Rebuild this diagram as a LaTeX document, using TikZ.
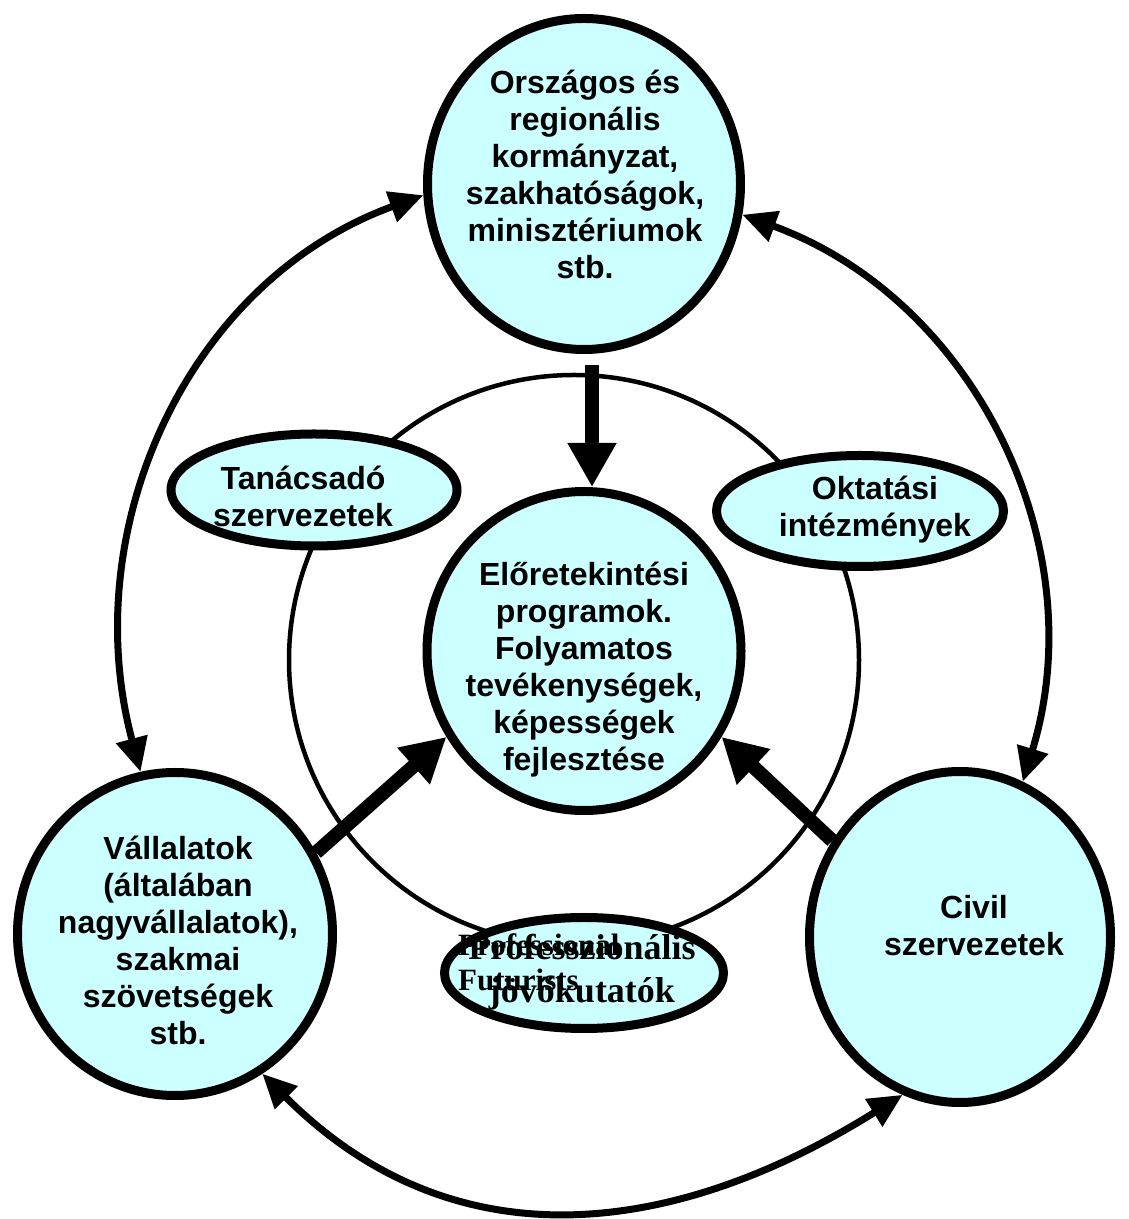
\documentclass[tikz,border=0pt]{standalone}
\usepackage{fontspec}
\setmainfont{Liberation Sans}
\newfontfamily\timesfont{Liberation Serif}
\usetikzlibrary{arrows.meta}
\usetikzlibrary{shapes.geometric}
\definecolor{cyan1}{RGB}{204, 255, 255}

\begin{document}
\begin{tikzpicture}[x=1pt, y=1pt,
  actor/.style={ellipse, draw, fill=cyan1, line width=9pt, inner sep=0pt},
  words/.style={align=center, font=\fontsize{32}{37}\selectfont\bfseries},
  push/.style={line width=14pt, -{Triangle[length=44pt,width=46pt]}},
  link/.style={line width=7pt, {Triangle[length=34pt,width=31pt]}-{Triangle[length=34pt,width=31pt]}}]
  \useasboundingbox (0,0) rectangle (1128,1219);
  \draw[line width=4.5pt] (574,559) circle [radius=285];

  \node[actor, minimum width=313pt, minimum height=331pt] (orsz) at (584,1035) {};
  \node[actor, minimum width=314pt, minimum height=319pt] (cent) at (584,568) {};
  \node[actor, minimum width=286pt, minimum height=112pt] (tan) at (314,729) {};
  \node[actor, minimum width=287pt, minimum height=111pt] (okt) at (860,708) {};
  \node[actor, minimum width=315pt, minimum height=323pt] (vall) at (175,285) {};
  \node[actor, minimum width=301pt, minimum height=331pt] (civil) at (960,282) {};
  \node[actor, minimum width=279pt, minimum height=111pt] (prof) at (584,246) {};

  \node[words] (orszt) at (585,1045) {Országos és\\regionális\\kormányzat,\\szakhatóságok,\\minisztériumok\\stb.};
  \node[words] (centt) at (584,549) {Előretekintési\\programok.\\Folyamatos\\tevékenységek,\\képességek\\fejlesztése};
  \node[words] (tant) at (303,723) {Tanácsadó\\szervezetek};
  \node[words] (oktt) at (875,709) {Oktatási\\intézmények};
  \node[words] (vallt) at (178,279) {Vállalatok\\(általában\\nagyvállalatok),\\szakmai\\szövetségek\\stb.};
  \node[words] (civilt) at (974,293) {Civil\\szervezetek};
  \node[align=center, font=\fontsize{36}{43}\selectfont\timesfont\bfseries] (proft) at (582,247) {Professzionális\\jövőkutatók};
  \node[anchor=west, align=left, inner sep=0pt, font=\fontsize{31}{35}\selectfont\timesfont\bfseries] (profen) at (458,257) {Professional\\Futurists};

  \draw[push] ([xshift=8pt,yshift=-11pt]orsz.south) -- ([xshift=8pt]cent.north);
  \foreach \from/\to in {vall.30/cent.212, civil.143/cent.-32}
    \draw[push] (\from) -- (\to);

  \draw[link] (vall.102) to[out=105, in=200] (orsz.184);
  \draw[link] (orsz.-11) to[out=-20, in=73] (civil.68);
  \draw[link] (vall.-58) to[out=-45, in=212, looseness=1.08] (civil.250);
\end{tikzpicture}
\end{document}
